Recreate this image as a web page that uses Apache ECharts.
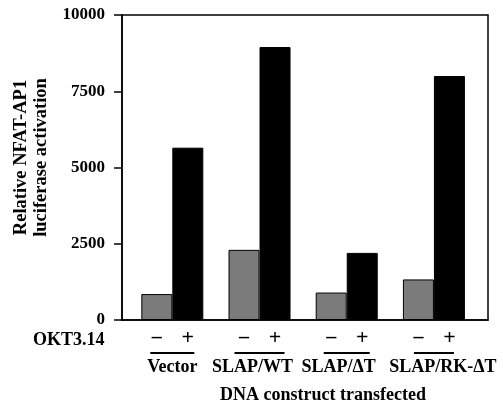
<!DOCTYPE html>
<html>
<head>
<meta charset="utf-8">
<script src="https://cdn.jsdelivr.net/npm/echarts@6/dist/echarts.min.js"></script>
<style>
  html, body { margin: 0; padding: 0; background: #fff; }
  #chart { width: 503px; height: 410px; }
</style>
</head>
<body>
<div id="chart"></div>
<script>
const groups = ['Vector', 'SLAP/WT', 'SLAP/\u0394T', 'SLAP/RK-\u0394T'];
const unstimulated = [850, 2300, 900, 1330];   // OKT3.14 -
const stimulated = [5650, 8950, 2200, 8000];   // OKT3.14 +
const signs = ['\u2013', '+'];

const serif = 'Liberation Serif';
const grayColor = '#7b7b7b';

// small horizontal nudges of the group captions, as in the original figure
const nameShift = [0, -7, -8, 9];
const lineShift = [-3, -6, -4, -1];

const rich = {};
groups.forEach((g, i) => {
    const ls = lineShift[i], ns = nameShift[i];
    rich['ln' + i] = {
        width: 38, height: 2, lineHeight: 2, fontSize: 1, backgroundColor: '#000',
        padding: ls >= 0 ? [0, 0, 0, 2 * ls] : [0, -2 * ls, 0, 0]
    };
    rich['nm' + i] = {
        fontFamily: serif, fontWeight: 'bold', fontSize: 18, color: '#000', lineHeight: 27,
        padding: ns >= 0 ? [0, 0, 0, 2 * ns] : [0, -2 * ns, 0, 0]
    };
});

// group captions split over two axes so neighbouring captions are never hidden
function captionAxis(values, main) {
    return {
        type: 'value',
        min: -0.577,
        max: 3.62,
        position: 'bottom',
        splitLine: { show: false },
        axisTick: { show: false },
        axisLine: { show: main, onZero: false, lineStyle: { color: '#000', width: 1.5 } },
        axisLabel: {
            customValues: values,
            showMinLabel: true,
            showMaxLabel: true,
            margin: 32,
            formatter: v => {
                const i = Math.round(v);
                return '{ln' + i + '| }\n{nm' + i + '|' + groups[i] + '}';
            },
            rich: rich
        }
    };
}

const xMain = captionAxis([0, 2], true);
xMain.name = 'DNA construct transfected';
xMain.nameLocation = 'middle';
xMain.nameGap = 66;
xMain.nameTextStyle = {
    fontFamily: serif, fontWeight: 'bold', fontSize: 18, color: '#000',
    padding: [0, 0, 0, 36]
};

const chart = echarts.init(document.getElementById('chart'));

const option = {
    animation: false,
    backgroundColor: '#fff',
    grid: {
        left: 122,
        right: 15,
        top: 15,
        bottom: 90,
        show: true,
        borderColor: '#000',
        borderWidth: 1.5
    },
    xAxis: [xMain, captionAxis([1, 3], false)],
    yAxis: {
        type: 'value',
        min: 0,
        max: 10000,
        interval: 2500,
        splitLine: { show: false },
        axisLine: { show: true, onZero: false, lineStyle: { color: '#000', width: 1.5 } },
        axisTick: { show: true, length: 8, lineStyle: { color: '#000', width: 1.5 } },
        axisLabel: {
            fontFamily: serif, fontWeight: 'bold', fontSize: 17, color: '#000', margin: 17,
            formatter: v => String(v)
        },
        name: 'Relative NFAT-AP1\nluciferase activation',
        nameLocation: 'middle',
        nameGap: 68,
        nameTextStyle: {
            fontFamily: serif, fontWeight: 'bold', fontSize: 18.5, color: '#000',
            lineHeight: 20, padding: [0, 0, 0, 20]
        }
    },
    series: [
        {
            name: 'OKT3.14 -',
            type: 'bar',
            barWidth: 31,
            barGap: '0%',
            data: unstimulated.map((v, i) => [i, v]),
            itemStyle: { color: grayColor, borderColor: '#000', borderWidth: 1 },
            label: {
                show: true, position: 'bottom', distance: 8,
                formatter: signs[0],
                fontFamily: serif, fontWeight: 'bold', fontSize: 20, color: '#000'
            }
        },
        {
            name: 'OKT3.14 +',
            type: 'bar',
            barWidth: 31,
            barGap: '0%',
            data: stimulated.map((v, i) => [i, v]),
            itemStyle: { color: '#000', borderColor: '#000', borderWidth: 1 },
            label: {
                show: true, position: 'bottom', distance: 7,
                formatter: signs[1],
                fontFamily: serif, fontWeight: 'bold', fontSize: 22, color: '#000'
            }
        }
    ],
    graphic: [
        {
            type: 'text',
            left: 33,
            top: 331,
            style: { text: 'OKT3.14', font: 'bold 18px "Liberation Serif"', fill: '#000' }
        }
    ]
};

chart.setOption(option);
</script>
</body>
</html>
